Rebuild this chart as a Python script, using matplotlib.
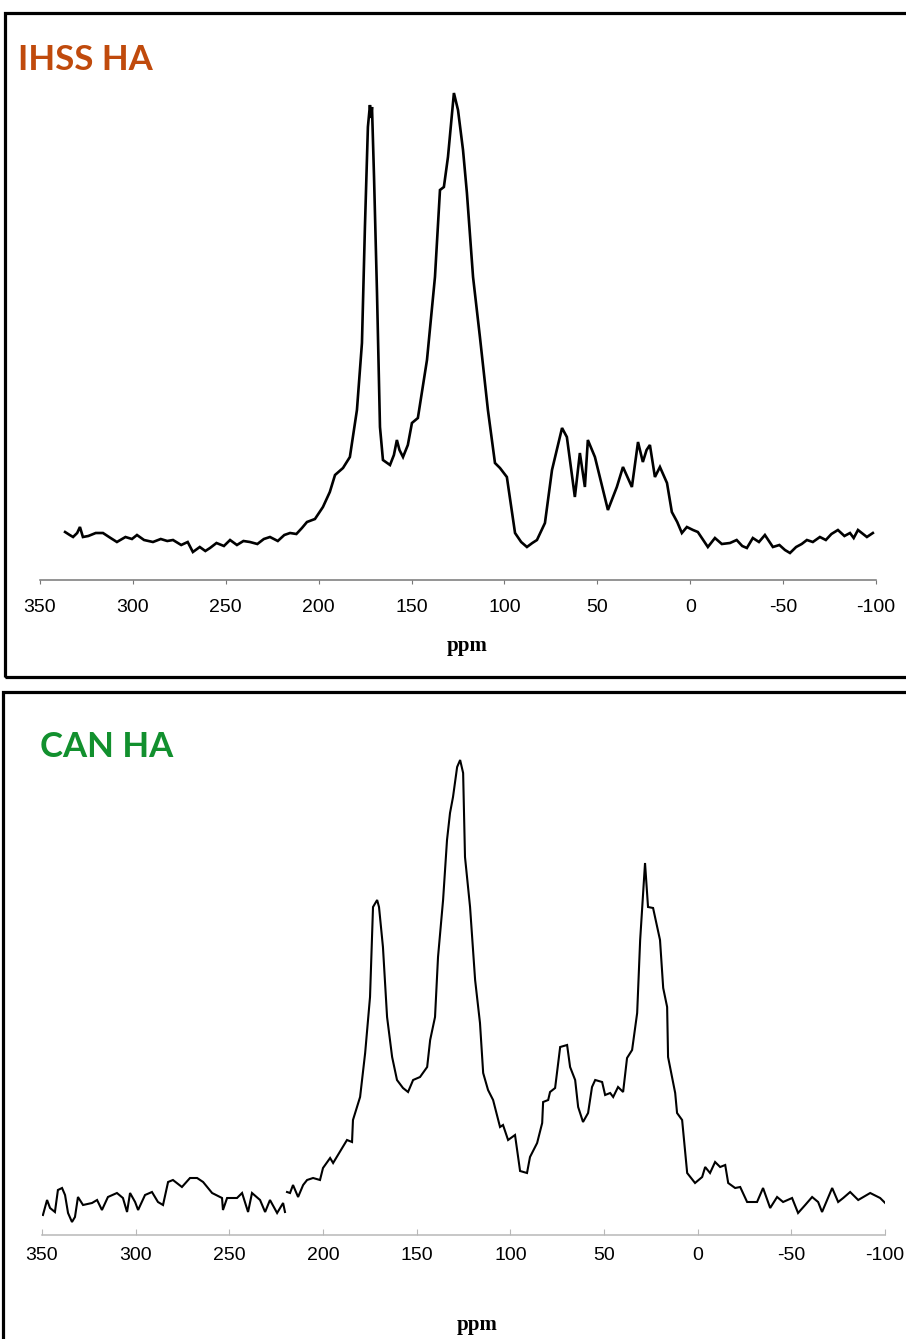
import numpy as np
import matplotlib
matplotlib.use("Agg")
import matplotlib.pyplot as plt
from matplotlib.patches import Rectangle

# ---------------- data ----------------
tick_values = [350, 300, 250, 200, 150, 100, 50, 0, -50, -100]
tick_labels = ["350", "300", "250", "200", "150", "100", "50", "0", "-50", "-100"]

titles = ["IHSS HA", "CAN HA"]
title_colors = ["#C04A0C", "#12902E"]
x_label = "ppm"

# IHSS HA spectrum (chemical shift ppm, intensity a.u.)
ihss_ppm = [336.5, 334.0, 332.2, 330.0, 328.5, 326.9, 324.0, 320.0, 316.1, 312.0,
            308.6, 304.0, 300.5, 297.8, 294.0, 289.2, 285.0, 281.5, 278.4, 274.0,
            270.5, 267.7, 264.0, 261.0, 258.5, 255.0, 251.0, 247.7, 244.0, 240.5,
            237.0, 233.0, 229.5, 226.2, 222.0, 218.5, 215.4, 212.0, 209.0, 206.3,
            202.0, 197.7, 194.0, 191.2, 186.9, 183.2, 179.4, 176.7, 175.1, 173.5,
            172.4, 171.8, 171.3, 170.2, 168.6, 167.0, 165.4, 161.6, 159.5, 157.9,
            156.5, 154.6, 152.0, 149.8, 146.6, 141.7, 137.4, 134.7, 132.6, 130.4,
            127.2, 125.0, 122.3, 120.2, 116.9, 113.2, 108.9, 105.1, 102.4, 98.7,
            94.3, 91.0, 87.9, 85.0, 82.5, 78.2, 74.4, 69.0, 66.4, 62.1,
            59.4, 56.7, 55.1, 51.3, 44.3, 39.5, 36.2, 31.4, 28.1, 25.5,
            23.5, 21.7, 19.0, 16.3, 12.5, 9.9, 7.0, 4.5, 1.8, -1.5,
            -4.1, -7.0, -9.5, -13.3, -17.0, -21.4, -25.0, -28.0, -30.5, -33.7,
            -37.0, -40.2, -44.5, -48.0, -51.0, -53.7, -57.0, -60.0, -62.8, -66.0,
            -69.8, -73.0, -76.0, -79.5, -83.0, -86.0, -88.0, -90.3, -93.0, -95.1,
            -98.3]
ihss_int = [48, 45, 43, 47, 53, 43, 44, 47, 47, 42,
            38, 43, 41, 45, 40, 38, 41, 39, 40, 35,
            38, 28, 33, 29, 32, 37, 34, 40, 35, 39,
            38, 36, 41, 43, 39, 45, 47, 46, 52, 58,
            61, 73, 88, 105, 112, 123, 170, 237, 353, 453,
            475, 462, 473, 403, 287, 153, 120, 115, 125, 140,
            130, 123, 135, 157, 162, 220, 303, 390, 393, 423,
            487, 470, 430, 387, 303, 243, 170, 117, 112, 103,
            47, 38, 33, 37, 40, 57, 110, 152, 143, 83,
            127, 93, 140, 123, 70, 93, 113, 93, 138, 118,
            130, 135, 103, 113, 97, 68, 58, 47, 53, 50,
            48, 40, 33, 42, 36, 37, 40, 34, 32, 42,
            38, 45, 33, 35, 30, 27, 33, 36, 40, 38,
            43, 40, 46, 50, 44, 47, 42, 50, 46, 43,
            47]

# CAN HA spectrum (chemical shift ppm, intensity a.u.); NaN = gap in trace
can_ppm = [349.5, 347.3, 345.7, 343.1, 341.5, 339.3, 337.7, 336.1, 334.0, 332.4,
           330.8, 328.1, 323.3, 320.6, 318.0, 314.8, 310.0, 306.8, 304.6, 303.0,
           300.3, 298.7, 295.0, 291.3, 288.1, 285.4, 282.7, 280.1, 275.3, 271.0,
           267.2, 264.0, 259.2, 253.9, 253.4, 251.2, 245.9, 243.2, 240.0, 237.9,
           233.6, 230.9, 228.3, 224.5, 221.3, 220.3, np.nan, 219.2, 217.6, 216.0,
           213.3, 210.6, 208.5, 205.3, 201.6, 200.0, 196.2, 194.6, 187.2, 184.5,
           184.0, 180.2, 177.5, 174.9, 173.3, 171.1, 170.1, 168.0, 165.8, 163.1,
           160.5, 157.3, 154.6, 151.9, 148.2, 144.4, 142.8, 140.2, 138.6, 135.9,
           133.8, 132.2, 130.6, 128.4, 126.8, 125.2, 124.2, 121.5, 118.8, 116.2,
           114.5, 111.9, 109.2, 105.5, 103.9, 101.2, 97.5, 94.8, 91.1, 89.5,
           85.7, 83.0, 82.5, 79.8, 78.8, 76.1, 73.4, 69.7, 68.1, 65.4,
           63.8, 61.2, 58.5, 56.4, 54.7, 51.0, 49.4, 46.7, 45.1, 42.5,
           39.8, 37.7, 35.0, 32.3, 30.7, 28.1, 26.5, 23.8, 20.1, 18.4,
           16.3, 15.8, 12.0, 11.0, 8.3, 5.6, 1.4, -2.4, -4.0, -6.6,
           -9.3, -12.0, -14.7, -16.3, -20.0, -22.7, -26.4, -31.7, -34.9, -38.7,
           -42.4, -45.6, -50.4, -53.6, -57.4, -61.1, -64.3, -66.4, -69.1, -71.8,
           -75.0, -77.7, -81.4, -85.7, -92.1, -97.4, -100.1]
can_int = [20, 35, 27, 23, 45, 47, 40, 22, 13, 18,
           38, 30, 32, 35, 25, 38, 42, 37, 23, 42,
           33, 25, 40, 43, 33, 30, 53, 55, 48, 57,
           57, 53, 42, 37, 25, 37, 37, 42, 23, 42,
           35, 23, 35, 22, 32, 23, np.nan, 43, 42, 50,
           38, 50, 55, 57, 55, 67, 77, 72, 95, 93,
           115, 138, 182, 238, 328, 335, 328, 288, 218, 178,
           155, 147, 143, 155, 158, 168, 195, 218, 278, 335,
           395, 422, 438, 468, 475, 462, 378, 328, 255, 212,
           162, 145, 135, 108, 110, 95, 100, 64, 62, 78,
           92, 112, 133, 135, 143, 147, 188, 190, 168, 155,
           128, 113, 122, 148, 155, 153, 140, 142, 138, 148,
           143, 177, 185, 222, 295, 372, 328, 327, 295, 247,
           228, 178, 142, 122, 115, 62, 52, 58, 68, 62,
           73, 68, 70, 52, 47, 48, 33, 33, 47, 27,
           38, 33, 37, 22, 30, 38, 33, 23, 35, 47,
           33, 37, 43, 35, 42, 37, 32]

# ---------------- figure ----------------
W, H = 906, 1339
fig = plt.figure(figsize=(W / 100, H / 100), dpi=100)
fig.patch.set_facecolor("white")


def add_panel(left_px, right_px, axis_px, ppm, inten, lw, axis_color, tick_dir,
              tick_len, pad):
    ax = fig.add_axes([left_px / W, 1 - axis_px / H, (right_px - left_px) / W, 500 / H])
    ax.plot(ppm, inten, color="black", lw=lw, solid_joinstyle="miter")
    ax.set_xlim(350, -100)
    ax.set_ylim(0, 500)
    for s in ["left", "right", "top"]:
        ax.spines[s].set_visible(False)
    ax.spines["bottom"].set_color(axis_color)
    ax.spines["bottom"].set_linewidth(1.1)
    ax.set_yticks([])
    ax.set_xticks(tick_values, labels=tick_labels)
    ax.tick_params(axis="x", direction=tick_dir, length=tick_len, color=axis_color,
                   labelsize=14, pad=pad)
    for lab in ax.get_xticklabels():
        lab.set_fontfamily("Liberation Sans")
    ax.patch.set_alpha(0)
    return ax


ax1 = add_panel(40, 876, 580, ihss_ppm, ihss_int, 1.9, "#777777", "out", 3, 11)
ax2 = add_panel(42, 885, 1235, can_ppm, can_int, 1.5, "#b8b8b8", "in", 4, 9)

# x labels
fig.text(467 / W, 1 - 646 / H, x_label, ha="center", va="center",
         fontfamily="Liberation Serif", fontweight="bold", fontsize=15)
fig.text(477 / W, 1 - 1325 / H, x_label, ha="center", va="center",
         fontfamily="Liberation Serif", fontweight="bold", fontsize=15)

# titles
fig.text(18 / W, 1 - 70 / H, titles[0], ha="left", va="baseline",
         fontfamily="Lato", fontweight="bold", fontsize=25, color=title_colors[0])
fig.text(40 / W, 1 - 757 / H, titles[1], ha="left", va="baseline",
         fontfamily="Lato", fontweight="bold", fontsize=25, color=title_colors[1])

# panel frames
fig.add_artist(Rectangle((5 / W, 1 - 677 / H), 1.2, (677 - 13) / H,
                         transform=fig.transFigure, fill=False, lw=2.3, ec="black"))
fig.add_artist(Rectangle((3 / W, 1 - 1420 / H), 1.2, (1420 - 692) / H,
                         transform=fig.transFigure, fill=False, lw=2.3, ec="black"))

fig.savefig("out.png", dpi=100, facecolor="white")
